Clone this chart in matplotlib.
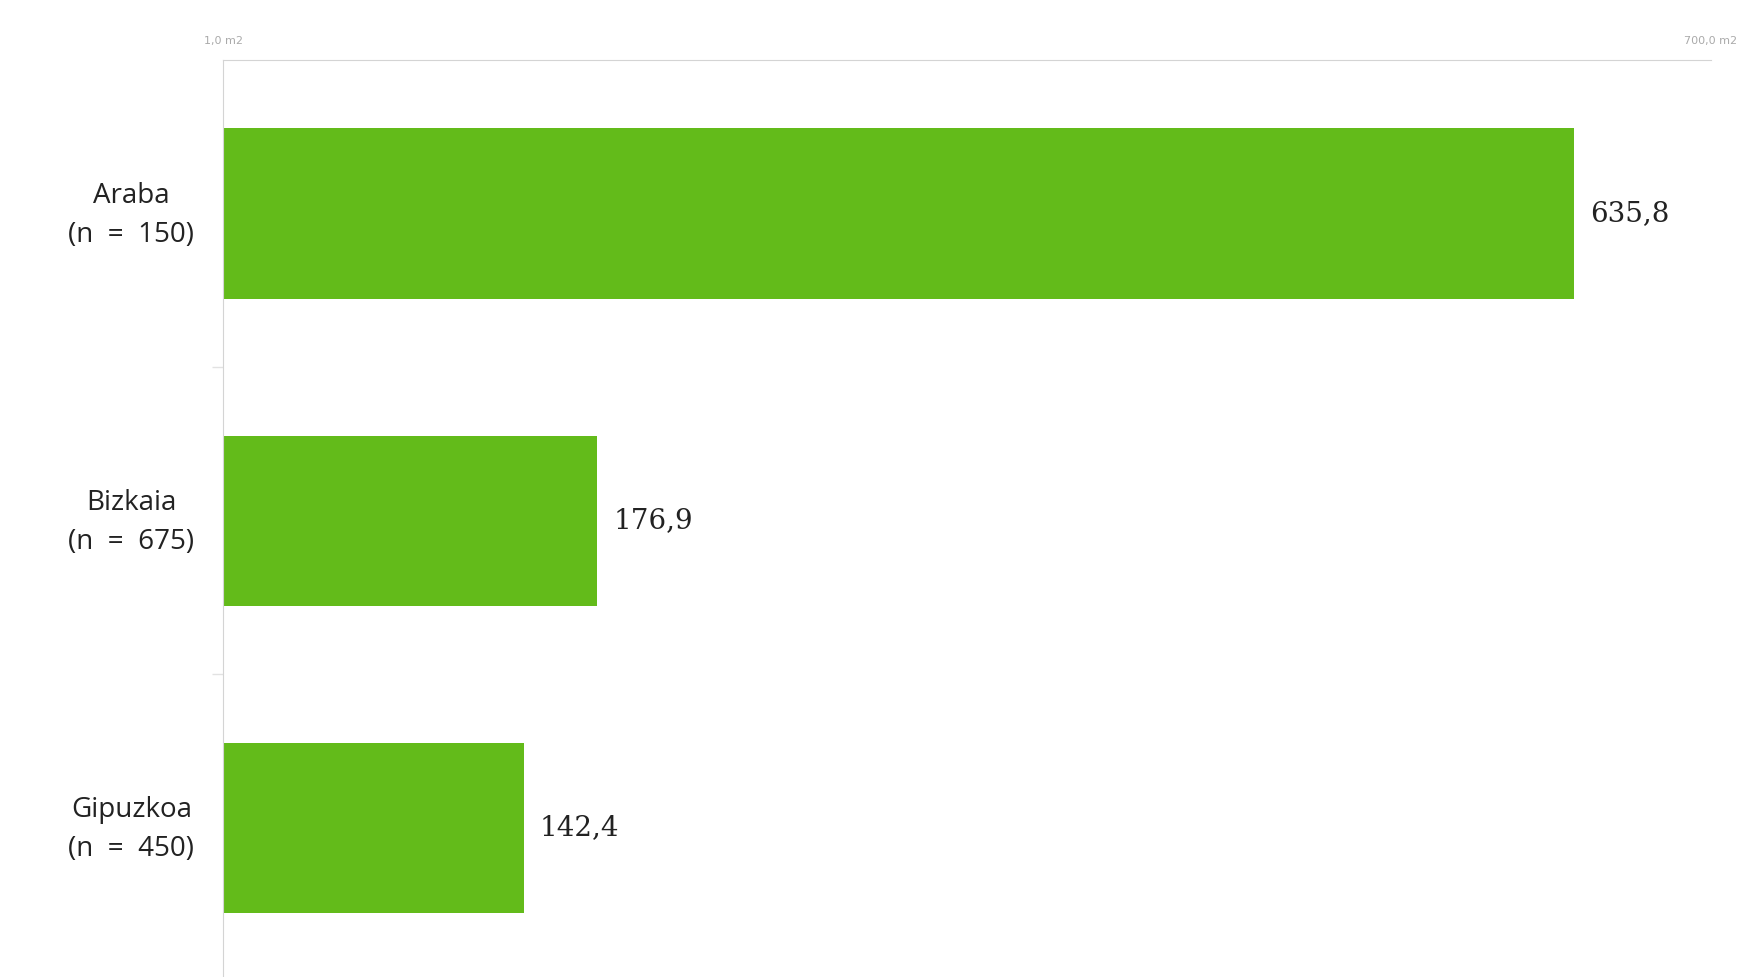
import numpy as np
import matplotlib.pyplot as plt
from matplotlib.transforms import ScaledTranslation

# surface per territory (m2)
territories = ["Araba", "Bizkaia", "Gipuzkoa"]
sample_sizes = [150, 675, 450]
values = [635.8, 176.9, 142.4]
axis_min, axis_max = 1.0, 700.0
axis_labels = ["1,0 m2", "700,0 m2"]

green = "#63bb1a"
grid_grey = "#d4d4d4"

fig = plt.figure(figsize=(17.6, 9.77), dpi=100)
ax = fig.add_axes([223 / 1760, 0, (1711 - 223) / 1760, 1 - 60 / 977])

y = np.arange(len(territories))
ax.barh(y, values, height=0.555, color=green, left=0)

ax.set_xlim(axis_min, axis_max)
ax.set_ylim(2.5 - 4.5 / 307, -0.5)

# top scale with only the two endpoints
ax.xaxis.tick_top()
ax.set_xticks([axis_min, axis_max])
ax.set_xticklabels(axis_labels, fontsize=8, color="#aaaaaa", family="DejaVu Sans")
ax.tick_params(axis="x", length=0, pad=10)

# category labels on the left, small separators between groups
ax.set_yticks(y)
ax.set_yticklabels([f"{t}\n(n  =  {n})" for t, n in zip(territories, sample_sizes)],
                   fontsize=20, color="#222222", family="Open Sans",
                   linespacing=1.5, ha="center")
ax.tick_params(axis="y", length=0, pad=66)
shift_up = ScaledTranslation(0, 0.07, fig.dpi_scale_trans)
for lab in ax.get_yticklabels():
    lab.set_transform(lab.get_transform() + shift_up)
ax.set_yticks([0.5, 1.5], minor=True)
ax.tick_params(axis="y", which="minor", length=8, color="#e2e2e2", width=1)

for s in ["right", "bottom"]:
    ax.spines[s].set_visible(False)
ax.spines["left"].set_color(grid_grey)
ax.spines["top"].set_color(grid_grey)

for yi, v in zip(y, values):
    ax.text(v + 7.5, yi, f"{v:.1f}".replace(".", ","), va="center", ha="left",
            fontsize=20, color="#222222", family="DejaVu Serif")

fig.savefig("out.png", dpi=100, facecolor="white")
